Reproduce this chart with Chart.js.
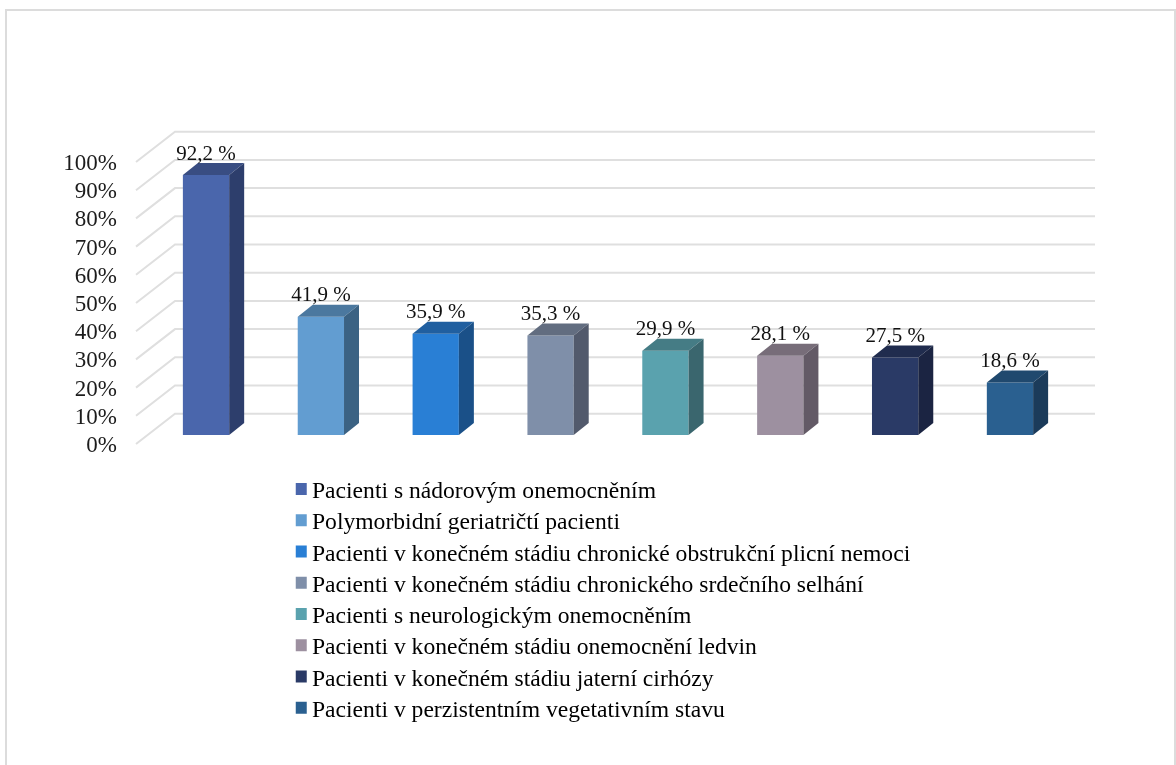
<!DOCTYPE html>
<html lang="cs">
<head>
<meta charset="utf-8">
<title>Pacienti</title>
<script src="https://cdn.jsdelivr.net/npm/chart.js@4"></script>
<style>
  html, body { margin: 0; background: #fff; overflow: hidden; }
  #frame { position: absolute; left: 5px; top: 9px; width: 1167px; height: 770px; border: 2px solid #dcdcdc; }
</style>
</head>
<body>
<div id="frame"></div>
<canvas id="careChart" width="1176" height="765" style="position:absolute;left:0;top:0"></canvas>
<script>
const categories = [
  "Pacienti s nádorovým onemocněním",
  "Polymorbidní geriatričtí pacienti",
  "Pacienti v konečném stádiu chronické obstrukční plicní nemoci",
  "Pacienti v konečném stádiu chronického srdečního selhání",
  "Pacienti s neurologickým onemocněním",
  "Pacienti v konečném stádiu onemocnění ledvin",
  "Pacienti v konečném stádiu jaterní cirhózy",
  "Pacienti v perzistentním vegetativním stavu",
];
const percents = [92.2, 41.9, 35.9, 35.3, 29.9, 28.1, 27.5, 18.6];
const tickValues = [0, 10, 20, 30, 40, 50, 60, 70, 80, 90, 100];

const frontColors = ["#4a66ac", "#629dd1", "#297fd5", "#7f8fa9", "#5aa2ae", "#9d90a0", "#2a3a66", "#2a6090"];
const topColors = ["#394d82", "#4b789f", "#205fa0", "#626d80", "#457c85", "#776d79", "#202c4e", "#20496e"];
const sideColors = ["#2d3e6c", "#3b6283", "#1a5088", "#525a6c", "#3a666e", "#635a66", "#1b2442", "#1b3b5a"];

const serif = '"Liberation Serif", "Times New Roman", serif';

// bars have depth, the walls go further back
const barDepth = { x: 15, y: -12 };
const wallDepth = { x: 39, y: -30.3 };
const floorLeft = 136;
const wallRight = 1095;
const gridLift = 2; // tick text sits a bit under its grid line

const wallPlugin = {
  id: "wall",
  beforeDatasetsDraw(chart) {
    const { ctx, scales } = chart;
    ctx.save();
    ctx.strokeStyle = "#dfdfdf";
    ctx.lineWidth = 2;
    tickValues.forEach((v) => {
      const y = scales.y.getPixelForValue(v) - gridLift;
      ctx.beginPath();
      ctx.moveTo(floorLeft, y);
      ctx.lineTo(floorLeft + wallDepth.x, y + wallDepth.y);
      ctx.lineTo(wallRight, y + wallDepth.y);
      ctx.stroke();
    });
    ctx.restore();
  },
};

const depthPlugin = {
  id: "depth",
  afterDatasetsDraw(chart) {
    const { ctx } = chart;
    const bars = chart.getDatasetMeta(0).data;
    ctx.save();
    bars.forEach((bar, i) => {
      const left = bar.x - bar.width / 2;
      const right = bar.x + bar.width / 2;
      ctx.fillStyle = topColors[i];
      ctx.beginPath();
      ctx.moveTo(left, bar.y);
      ctx.lineTo(left + barDepth.x, bar.y + barDepth.y);
      ctx.lineTo(right + barDepth.x, bar.y + barDepth.y);
      ctx.lineTo(right, bar.y);
      ctx.closePath();
      ctx.fill();
      ctx.fillStyle = sideColors[i];
      ctx.beginPath();
      ctx.moveTo(right, bar.y);
      ctx.lineTo(right + barDepth.x, bar.y + barDepth.y);
      ctx.lineTo(right + barDepth.x, bar.base + barDepth.y);
      ctx.lineTo(right, bar.base);
      ctx.closePath();
      ctx.fill();
    });
    ctx.fillStyle = "#111";
    ctx.font = "21px " + serif;
    ctx.textAlign = "center";
    ctx.textBaseline = "middle";
    bars.forEach((bar, i) => {
      ctx.fillText(percents[i].toFixed(1).replace(".", ",") + " %", bar.x, bar.y - 21);
    });
    ctx.restore();
  },
};

// the legend sits under the plot as one column
const legendPlacePlugin = {
  id: "legendPlace",
  afterLayout(chart) {
    const legend = chart.legend;
    const w = legend.width;
    const h = legend.height;
    legend.left = 291.55;
    legend.right = 291.55 + w;
    legend.top = 472.55;
    legend.bottom = 472.55 + h;
    legend.adjustHitBoxes();
  },
};

// legend square, set off centre in its image so it stays close to the text
function legendMark(color) {
  const mark = document.createElement("canvas");
  mark.width = 24;
  mark.height = 24;
  const g = mark.getContext("2d");
  g.fillStyle = color;
  g.fillRect(8, 3, 11, 12);
  return mark;
}

const ctx = document.getElementById("careChart").getContext("2d");
const careChart = new Chart(ctx, {
  type: "bar",
  data: {
    labels: categories,
    datasets: [
      {
        label: "",
        data: percents,
        yAxisID: "yBars",
        backgroundColor: frontColors,
        borderWidth: 0,
        barPercentage: 0.403,
        categoryPercentage: 1,
      },
    ],
  },
  plugins: [wallPlugin, depthPlugin, legendPlacePlugin],
  options: {
    responsive: false,
    animation: false,
    layout: {
      padding: { top: 164, right: 108.6, bottom: 319, left: 0 },
    },
    plugins: {
      title: { display: false },
      tooltip: { enabled: false },
      legend: {
        position: "chartArea",
        align: "start",
        labels: {
          usePointStyle: true,
          pointStyleWidth: 1,
          boxHeight: 1,
          padding: 7.65,
          color: "#111",
          font: { family: serif, size: 23.6 },
          generateLabels() {
            return categories.map((name, i) => ({
              text: name,
              pointStyle: legendMark(frontColors[i]),
              fillStyle: frontColors[i],
              strokeStyle: frontColors[i],
              lineWidth: 0,
              datasetIndex: 0,
              index: i,
            }));
          },
        },
      },
    },
    scales: {
      x: { display: false },
      y: {
        min: 0,
        max: 100,
        afterFit(scale) {
          scale.width = 148.6;
        },
        afterBuildTicks(scale) {
          scale.ticks = tickValues.map((value) => ({ value }));
        },
        border: { display: false },
        grid: { display: false, drawTicks: false },
        ticks: {
          autoSkip: false,
          padding: 31.6,
          color: "#1c1c1c",
          font: { family: serif, size: 23 },
          callback: (v) => v + "%",
        },
      },
      // the bars stand a little behind the front edge of the floor
      yBars: {
        display: false,
        min: -3.9,
        max: 96.1,
      },
    },
  },
});
</script>
</body>
</html>
